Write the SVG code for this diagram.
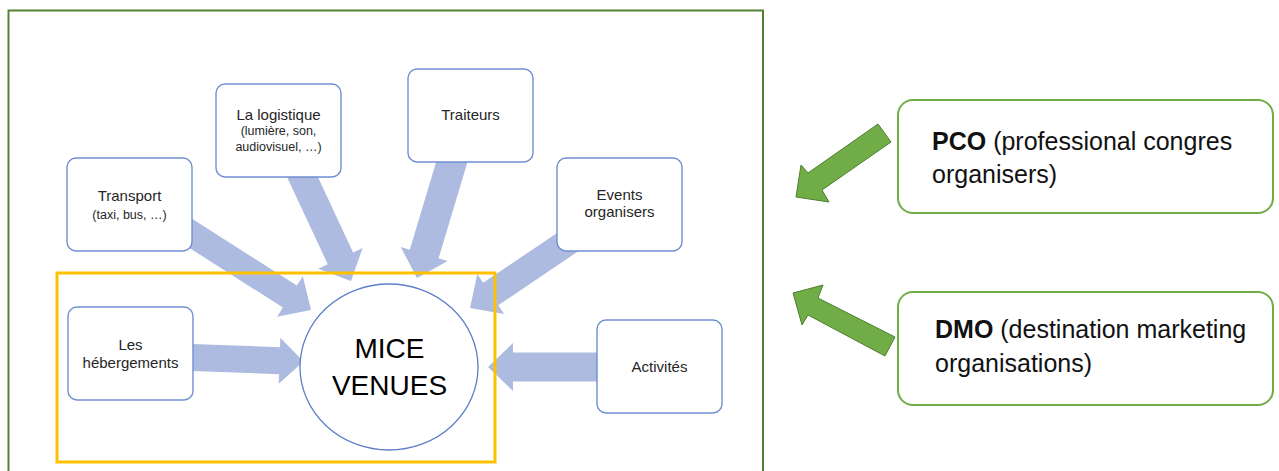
<svg xmlns="http://www.w3.org/2000/svg" width="1279" height="471" viewBox="0 0 1279 471">
  <style>
    .box { fill: #ffffff; stroke: #6f8fd2; stroke-width: 1.4; }
    .hub { fill: #ffffff; stroke: #5b7fc7; stroke-width: 1.3; }
    .flow { fill: #aebbe0; stroke: none; }
    .actor { fill: #ffffff; stroke: #70ad47; stroke-width: 2; }
    .push { fill: #70ad47; stroke: #507e32; stroke-width: 1; }
    .lbl { font-family: "Liberation Sans", Arial, sans-serif; fill: #262626; text-anchor: middle; }
    .sub { font-size: 12.5px; }
    .main { font-size: 15px; }
    .hubtxt { font-family: "Liberation Sans", Arial, sans-serif; font-size: 28px; fill: #000; text-anchor: middle; }
    .big { font-family: "Liberation Sans", Arial, sans-serif; font-size: 25px; fill: #111; }
  </style>

  <!-- outer frame -->
  <rect id="frame" x="8.5" y="10.5" width="754.5" height="480" fill="#ffffff" stroke="#548235" stroke-width="2"/>

  <!-- block arrows pointing at the venue -->
  <g id="connectors">
    <polygon class="flow" transform="translate(311,310) rotate(32.5)" points="0,0 -25,-24 -25,-13 -160,-13 -160,13 -25,13 -25,24"/>
    <polygon class="flow" transform="translate(351,281) rotate(65)" points="0,0 -25,-24.5 -25,-14 -145,-14 -145,14 -25,14 -25,24.5"/>
    <polygon class="flow" transform="translate(417,278) rotate(106.7)" points="0,0 -25,-24.5 -25,-15 -150,-15 -150,15 -25,15 -25,24.5"/>
    <polygon class="flow" transform="translate(470,308) rotate(146)" points="0,0 -25,-24 -25,-13.5 -150,-13.5 -150,13.5 -25,13.5 -25,24"/>
    <polygon class="flow" transform="translate(303.5,361.5) rotate(2)" points="0,0 -24,-23 -24,-13.5 -140,-13.5 -140,13.5 -24,13.5 -24,23"/>
    <polygon class="flow" transform="translate(488,367) rotate(180)" points="0,0 -25,-24 -25,-14.5 -140,-14.5 -140,14.5 -25,14.5 -25,24"/>
    <!-- green arrows from the right-hand actors -->
    <polygon class="push" points="878,124 891,142 822,190 829,202 796,197 801,165 808,173"/>
    <polygon class="push" points="895,337 818,298 823,285 793,293 802,325 808,315 885,356"/>
  </g>

  <g id="transport">
    <rect class="box" x="67" y="158" width="125" height="93" rx="9"/>
    <text class="lbl main" x="129.5" y="200.5">Transport</text>
    <text class="lbl sub" x="129.5" y="219">(taxi, bus, …)</text>
  </g>

  <g id="logistique">
    <rect class="box" x="216" y="84" width="125" height="93" rx="9"/>
    <text class="lbl main" x="278.5" y="120">La logistique</text>
    <text class="lbl sub" x="278.5" y="134.5">(lumière, son,</text>
    <text class="lbl sub" x="278.5" y="150.5">audiovisuel, …)</text>
  </g>

  <g id="traiteurs">
    <rect class="box" x="408" y="69" width="125" height="93" rx="9"/>
    <text class="lbl main" x="470.5" y="119.5">Traiteurs</text>
  </g>

  <g id="events">
    <rect class="box" x="557" y="158" width="125" height="93" rx="9"/>
    <text class="lbl main" x="619.5" y="200">Events</text>
    <text class="lbl main" x="619.5" y="217">organisers</text>
  </g>

  <g id="hebergements">
    <rect class="box" x="68" y="307" width="125" height="93" rx="9"/>
    <text class="lbl main" x="130.5" y="350">Les</text>
    <text class="lbl main" x="130.5" y="367.5">hébergements</text>
  </g>

  <g id="activites">
    <rect class="box" x="597" y="320" width="125" height="93" rx="9"/>
    <text class="lbl main" x="659.5" y="371.5">Activités</text>
  </g>

  <g id="mice-venues">
    <ellipse class="hub" cx="389" cy="367" rx="89" ry="83"/>
    <text class="hubtxt" x="389.5" y="358">MICE</text>
    <text class="hubtxt" x="389.5" y="395">VENUES</text>
  </g>

  <!-- highlighted core zone -->
  <rect id="core-zone" x="57" y="273" width="438" height="189" fill="none" stroke="#ffc000" stroke-width="3"/>

  <g id="pco">
    <rect class="actor" x="898" y="100" width="375" height="113" rx="15"/>
    <text class="big" x="932" y="150"><tspan font-weight="bold">PCO</tspan> (professional congres</text>
    <text class="big" x="932" y="183">organisers)</text>
  </g>

  <g id="dmo">
    <rect class="actor" x="898" y="292" width="375" height="113" rx="15"/>
    <text class="big" x="935" y="338"><tspan font-weight="bold">DMO</tspan> (destination marketing</text>
    <text class="big" x="935" y="372">organisations)</text>
  </g>
</svg>
